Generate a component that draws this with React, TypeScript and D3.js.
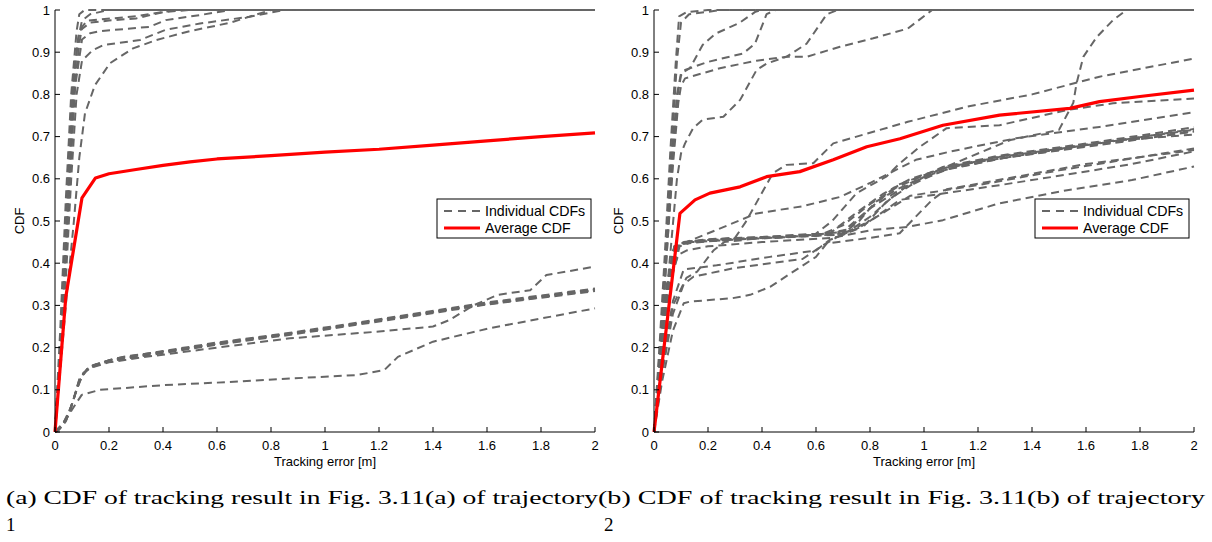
import React from "react";
import * as d3 from "d3";

type Pt = [number, number];

const xTicks = [0, 0.2, 0.4, 0.6, 0.8, 1, 1.2, 1.4, 1.6, 1.8, 2];
const yTicks = [0, 0.1, 0.2, 0.3, 0.4, 0.5, 0.6, 0.7, 0.8, 0.9, 1];
const legendLabels = ["Individual CDFs", "Average CDF"];
const xLabel = "Tracking error [m]";
const yLabel = "CDF";
const captionA = ["(a) CDF of tracking result in Fig. 3.11(a) of trajectory", "1"];
const captionB = ["(b) CDF of tracking result in Fig. 3.11(b) of trajectory", "2"];

// ---------- Left panel (trajectory 1) ----------
const leftA1: Pt[] = [[0,0],[0.02,0.25],[0.04,0.55],[0.06,0.8],[0.08,0.95],[0.09,0.99],[0.11,1],[2,1]];
const leftA2: Pt[] = [[0,0],[0.025,0.25],[0.045,0.55],[0.065,0.8],[0.085,0.93],[0.1,0.975],[0.13,0.99],[0.2,1],[2,1]];
const leftA3: Pt[] = [[0,0],[0.03,0.3],[0.05,0.55],[0.07,0.8],[0.09,0.92],[0.1,0.96],[0.12,0.975],[0.3,0.985],[0.45,1],[2,1]];
const leftA4: Pt[] = [[0,0],[0.03,0.3],[0.055,0.6],[0.075,0.82],[0.1,0.93],[0.13,0.945],[0.167,0.95],[0.35,0.96],[0.41,0.976],[0.537,0.988],[0.65,1],[2,1]];
const leftA5: Pt[] = [[0,0],[0.035,0.3],[0.06,0.6],[0.08,0.8],[0.1,0.88],[0.14,0.905],[0.18,0.917],[0.315,0.929],[0.41,0.953],[0.537,0.968],[0.72,0.984],[0.85,1],[2,1]];
const leftA6: Pt[] = [[0,0],[0.03,0.3],[0.05,0.6],[0.07,0.85],[0.09,0.95],[0.13,0.97],[0.2,0.975],[0.3,0.98],[0.4,0.995],[0.5,1],[2,1]];
const leftA7: Pt[] = [[0,0],[0.04,0.3],[0.07,0.5],[0.09,0.65],[0.111,0.755],[0.148,0.822],[0.204,0.874],[0.289,0.909],[0.376,0.929],[0.5,0.95],[0.65,0.97],[0.8,1],[2,1]];
const leftB1: Pt[] = [[0,0],[0.02,0.01],[0.043,0.03],[0.07,0.08],[0.093,0.13],[0.13,0.155],[0.2,0.17],[0.4,0.19],[0.6,0.21],[0.88,0.234],[1.2,0.265],[1.6,0.305],[2,0.338]];
const leftB2: Pt[] = [[0,0],[0.025,0.015],[0.05,0.04],[0.075,0.09],[0.1,0.135],[0.14,0.158],[0.22,0.174],[0.4,0.192],[0.6,0.212],[0.88,0.236],[1.2,0.267],[1.6,0.307],[2,0.34]];
const leftB3: Pt[] = [[0,0],[0.015,0.005],[0.04,0.025],[0.065,0.07],[0.09,0.125],[0.12,0.15],[0.2,0.168],[0.4,0.187],[0.6,0.207],[0.88,0.231],[1.2,0.262],[1.6,0.302],[2,0.334]];
const leftB4: Pt[] = [[0,0],[0.03,0.02],[0.055,0.05],[0.08,0.1],[0.105,0.14],[0.15,0.16],[0.25,0.178],[0.45,0.195],[0.7,0.218],[1.0,0.245],[1.3,0.275],[1.6,0.303],[2,0.336]];
const leftB5: Pt[] = [[0,0],[0.03,0.02],[0.06,0.06],[0.09,0.12],[0.12,0.15],[0.2,0.165],[0.3,0.175],[0.6,0.2],[0.87,0.222],[1.2,0.238],[1.4,0.25],[1.46,0.265],[1.55,0.3],[1.64,0.325],[1.76,0.336],[1.82,0.372],[2,0.392]];
const leftB6: Pt[] = [[0,0],[0.03,0.02],[0.06,0.05],[0.099,0.088],[0.167,0.1],[0.4,0.111],[0.6,0.117],[0.88,0.127],[1.12,0.135],[1.22,0.147],[1.27,0.178],[1.4,0.214],[1.61,0.246],[2,0.293]];
const leftAverage: Pt[] = [[0,0],[0.04,0.32],[0.1,0.555],[0.15,0.602],[0.2,0.612],[0.3,0.622],[0.4,0.632],[0.5,0.64],[0.6,0.647],[0.8,0.655],[1.0,0.663],[1.2,0.67],[1.4,0.68],[1.6,0.69],[1.8,0.7],[2,0.709]];

// ---------- Right panel (trajectory 2) ----------
const rTop1: Pt[] = [[0,0],[0.02,0.2],[0.04,0.42],[0.06,0.66],[0.08,0.87],[0.093,0.985],[0.12,0.995],[0.2,1],[2,1]];
const rTop2: Pt[] = [[0,0],[0.025,0.2],[0.045,0.42],[0.065,0.66],[0.085,0.88],[0.1,0.97],[0.13,0.99],[0.25,1],[2,1]];
const rC: Pt[] = [[0,0],[0.02,0.18],[0.045,0.42],[0.065,0.64],[0.085,0.8],[0.1,0.85],[0.133,0.862],[0.18,0.917],[0.228,0.944],[0.315,0.969],[0.376,0.996],[0.4,1],[2,1]];
const rA: Pt[] = [[0,0],[0.025,0.2],[0.05,0.45],[0.07,0.65],[0.088,0.8],[0.1,0.845],[0.115,0.858],[0.2,0.877],[0.33,0.897],[0.374,0.92],[0.417,0.99],[0.45,1],[2,1]];
const rB: Pt[] = [[0,0],[0.025,0.2],[0.05,0.45],[0.07,0.63],[0.09,0.78],[0.1,0.82],[0.115,0.838],[0.244,0.862],[0.38,0.88],[0.49,0.889],[0.565,0.889],[0.689,0.913],[0.812,0.933],[0.94,0.956],[1.03,1],[2,1]];
const rD: Pt[] = [[0,0],[0.03,0.2],[0.06,0.42],[0.085,0.6],[0.1,0.66],[0.115,0.684],[0.145,0.72],[0.18,0.74],[0.257,0.747],[0.319,0.787],[0.38,0.858],[0.417,0.873],[0.49,0.889],[0.565,0.92],[0.64,0.99],[0.68,1],[2,1]];
const rE: Pt[] = [[0,0],[0.02,0.15],[0.045,0.32],[0.07,0.43],[0.1,0.445],[0.2,0.452],[0.4,0.46],[0.6,0.466],[0.72,0.48],[0.8,0.53],[0.9,0.585],[1.05,0.62],[1.32,0.692],[1.5,0.716],[1.553,0.78],[1.565,0.826],[1.59,0.889],[1.64,0.936],[1.7,0.976],[1.75,1],[2,1]];
const rG: Pt[] = [[0,0],[0.025,0.18],[0.05,0.35],[0.08,0.44],[0.12,0.45],[0.2,0.455],[0.3,0.46],[0.34,0.498],[0.44,0.613],[0.49,0.633],[0.59,0.637],[0.664,0.684],[0.94,0.735],[1.16,0.771],[1.4,0.8],[1.65,0.842],[2,0.885]];
const rF: Pt[] = [[0,0],[0.02,0.16],[0.045,0.34],[0.075,0.44],[0.11,0.448],[0.2,0.455],[0.4,0.462],[0.6,0.47],[0.66,0.5],[0.75,0.566],[0.86,0.605],[0.911,0.637],[0.985,0.676],[1.084,0.72],[1.28,0.727],[1.53,0.763],[1.7,0.779],[2,0.79]];
const rH: Pt[] = [[0,0],[0.02,0.15],[0.045,0.33],[0.08,0.44],[0.109,0.447],[0.232,0.479],[0.38,0.518],[0.55,0.535],[0.689,0.557],[0.8,0.59],[0.97,0.645],[1.1,0.665],[1.34,0.696],[1.65,0.723],[2,0.758]];
const rM1: Pt[] = [[0,0],[0.02,0.15],[0.045,0.33],[0.075,0.44],[0.1,0.448],[0.2,0.455],[0.4,0.46],[0.6,0.465],[0.7,0.47],[0.76,0.5],[0.82,0.545],[0.9,0.575],[1.07,0.625],[1.28,0.652],[1.65,0.684],[2,0.718]];
const rM2: Pt[] = [[0,0],[0.025,0.16],[0.05,0.34],[0.08,0.44],[0.11,0.45],[0.2,0.457],[0.4,0.462],[0.62,0.468],[0.7,0.49],[0.8,0.54],[0.9,0.58],[1.07,0.628],[1.28,0.655],[1.65,0.688],[2,0.722]];
const rM3: Pt[] = [[0,0],[0.02,0.14],[0.05,0.33],[0.085,0.44],[0.12,0.45],[0.25,0.456],[0.45,0.46],[0.7,0.468],[0.78,0.49],[0.86,0.545],[0.95,0.59],[1.1,0.625],[1.3,0.65],[1.65,0.68],[2,0.712]];
const rM4: Pt[] = [[0,0],[0.025,0.15],[0.055,0.34],[0.09,0.44],[0.13,0.452],[0.3,0.458],[0.5,0.463],[0.65,0.47],[0.75,0.52],[0.85,0.565],[0.95,0.6],[1.1,0.63],[1.3,0.655],[1.65,0.686],[2,0.716]];
const rM5: Pt[] = [[0,0],[0.03,0.17],[0.06,0.35],[0.095,0.44],[0.14,0.45],[0.3,0.456],[0.5,0.462],[0.72,0.475],[0.8,0.51],[0.88,0.555],[1.0,0.605],[1.15,0.635],[1.4,0.66],[1.7,0.69],[2,0.705]];
const rQ: Pt[] = [[0,0],[0.03,0.14],[0.07,0.3],[0.12,0.365],[0.16,0.38],[0.22,0.43],[0.26,0.45],[0.4,0.46],[0.6,0.468],[0.7,0.475],[0.8,0.53],[0.9,0.57],[1.07,0.62],[1.3,0.65],[1.65,0.682],[2,0.713]];
const rK: Pt[] = [[0,0],[0.03,0.12],[0.07,0.24],[0.11,0.305],[0.133,0.309],[0.29,0.317],[0.356,0.325],[0.43,0.344],[0.6,0.415],[0.64,0.447],[0.8,0.46],[0.91,0.471],[1.03,0.55],[1.084,0.575],[1.3,0.6],[1.6,0.635],[2,0.668]];
const rL: Pt[] = [[0,0],[0.03,0.14],[0.07,0.28],[0.11,0.35],[0.146,0.368],[0.294,0.388],[0.43,0.4],[0.55,0.41],[0.62,0.44],[0.7,0.47],[0.8,0.5],[0.91,0.55],[1.07,0.565],[1.28,0.585],[1.53,0.61],[1.77,0.635],[2,0.665]];
const rN: Pt[] = [[0,0],[0.03,0.16],[0.07,0.31],[0.11,0.385],[0.232,0.395],[0.43,0.415],[0.6,0.43],[0.65,0.455],[0.75,0.48],[0.85,0.52],[0.95,0.56],[1.2,0.585],[1.5,0.62],[2,0.672]];
const rJ: Pt[] = [[0,0],[0.025,0.18],[0.055,0.35],[0.09,0.42],[0.12,0.43],[0.2,0.44],[0.4,0.45],[0.66,0.46],[0.81,0.479],[0.94,0.486],[1.07,0.502],[1.28,0.542],[1.53,0.573],[1.77,0.597],[2,0.629]];
const rightAverage: Pt[] = [[0,0],[0.096,0.518],[0.152,0.55],[0.207,0.566],[0.319,0.581],[0.417,0.605],[0.54,0.617],[0.664,0.645],[0.788,0.676],[0.911,0.695],[1.07,0.727],[1.28,0.751],[1.54,0.767],[1.65,0.783],[1.8,0.795],[2,0.81]];

const leftIndividuals = [leftA1, leftA2, leftA3, leftA4, leftA5, leftA6, leftA7, leftB1, leftB2, leftB3, leftB4, leftB5, leftB6];
const rightIndividuals = [rTop1, rTop2, rC, rA, rB, rD, rE, rG, rF, rH, rM1, rM2, rM3, rM4, rM5, rQ, rK, rL, rN, rJ];

const GREY = "#666666";
const RED = "#ff0000";
const AXIS_FONT = "'Liberation Sans', Arial, Helvetica, sans-serif";
const SERIF = "'Liberation Serif', 'Times New Roman', serif";

function fmt(v: number) {
  return String(+v.toFixed(1));
}

function Panel({ x0, x1, individuals, average, legendX }: { x0: number; x1: number; individuals: Pt[][]; average: Pt[]; legendX: number }) {
  const xs = d3.scaleLinear().domain([0, 2]).range([x0, x1]);
  const ys = d3.scaleLinear().domain([0, 1]).range([432, 10]);
  const line = d3.line<Pt>().x((d) => xs(d[0])).y((d) => ys(d[1]));
  const tick = 5;
  const ly = 199;
  return (
    <g>
      {individuals.map((s, i) => (
        <path key={i} d={line(s) || ""} fill="none" stroke={GREY} strokeWidth={2} strokeDasharray="8,5" strokeLinejoin="round" />
      ))}
      <path d={line(average) || ""} fill="none" stroke={RED} strokeWidth={3.2} strokeLinejoin="round" />
      <line x1={x0} x2={x0} y1={ys(0)} y2={ys(1)} stroke="#000" strokeWidth={1} />
      <line x1={x0} x2={x1} y1={ys(0)} y2={ys(0)} stroke="#000" strokeWidth={1} />
      {yTicks.map((t) => (
        <g key={"y" + t}>
          <line x1={x0} x2={x0 + tick} y1={ys(t)} y2={ys(t)} stroke="#000" />
          <text x={x0 - 5} y={ys(t) + 4.5} textAnchor="end" fontFamily={AXIS_FONT} fontSize={13}>{fmt(t)}</text>
        </g>
      ))}
      {xTicks.map((t) => (
        <g key={"x" + t}>
          <line x1={xs(t)} x2={xs(t)} y1={ys(0)} y2={ys(0) - tick} stroke="#000" />
          <text x={xs(t)} y={450} textAnchor="middle" fontFamily={AXIS_FONT} fontSize={13}>{fmt(t)}</text>
        </g>
      ))}
      <text x={(x0 + x1) / 2} y={466} textAnchor="middle" fontFamily={AXIS_FONT} fontSize={13}>{xLabel}</text>
      <text transform={`translate(${x0 - 31},${ys(0.5)}) rotate(-90)`} textAnchor="middle" fontFamily={AXIS_FONT} fontSize={13}>{yLabel}</text>
      <rect x={legendX} y={ly} width={154} height={39} fill="#fff" stroke="#000" strokeWidth={1} />
      <line x1={legendX + 7} x2={legendX + 43} y1={ly + 12} y2={ly + 12} stroke={GREY} strokeWidth={2} strokeDasharray="8,6" />
      <line x1={legendX + 7} x2={legendX + 43} y1={ly + 29} y2={ly + 29} stroke={RED} strokeWidth={3.2} />
      <text x={legendX + 48} y={ly + 17} fontFamily={AXIS_FONT} fontSize={14.2}>{legendLabels[0]}</text>
      <text x={legendX + 48} y={ly + 34} fontFamily={AXIS_FONT} fontSize={14.2}>{legendLabels[1]}</text>
    </g>
  );
}

export default function App() {
  if (typeof document !== "undefined") document.body.style.margin = "0";
  return (
    <svg width={1212} height={542} style={{ display: "block", position: "absolute", left: 0, top: 0, background: "#fff" }}>
      <rect x={0} y={0} width={1212} height={542} fill="#fff" />
      <Panel x0={55} x1={595} individuals={leftIndividuals} average={leftAverage} legendX={437} />
      <Panel x0={654} x1={1194} individuals={rightIndividuals} average={rightAverage} legendX={1035} />
      <text x={6} y={504} fontFamily={SERIF} fontSize={19} textLength={592} lengthAdjust="spacingAndGlyphs">{captionA[0]}</text>
      <text x={6} y={531} fontFamily={SERIF} fontSize={19}>{captionA[1]}</text>
      <text x={598} y={504} fontFamily={SERIF} fontSize={19} textLength={607} lengthAdjust="spacingAndGlyphs">{captionB[0]}</text>
      <text x={604} y={531} fontFamily={SERIF} fontSize={19}>{captionB[1]}</text>
    </svg>
  );
}
